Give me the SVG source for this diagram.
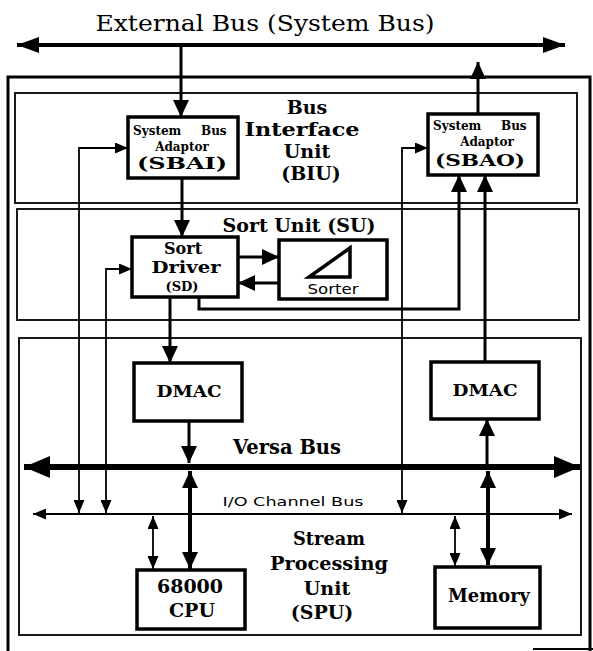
<svg xmlns="http://www.w3.org/2000/svg" width="593" height="651" viewBox="0 0 593 651">
<style>
.frame{fill:none;stroke:#000;stroke-width:1.8}
.outer{fill:none;stroke:#000;stroke-width:3}
.box{fill:#fff;stroke:#000;stroke-width:3.5}
.c{fill:none;stroke:#000}
.s2{stroke-width:1.8}
.s3{stroke-width:3}
.s4{stroke-width:4}
.s6{stroke-width:6}
.t{font-family:"DejaVu Serif","Liberation Serif",serif;font-weight:bold;fill:#000;text-anchor:middle}
.n{font-family:"DejaVu Serif","Liberation Serif",serif;fill:#000;text-anchor:middle}
.sans{font-family:"DejaVu Sans","Liberation Sans",sans-serif;fill:#000;text-anchor:middle}
</style>
<defs>
<marker id="aExt" markerUnits="userSpaceOnUse" markerWidth="22" markerHeight="16" refX="22" refY="8" orient="auto-start-reverse"><path d="M0,0 L22,8 L0,16 z"/></marker>
<marker id="aVer" markerUnits="userSpaceOnUse" markerWidth="26" markerHeight="22" refX="26" refY="11" orient="auto-start-reverse"><path d="M0,0 L26,11 L0,22 z"/></marker>
<marker id="aMed" markerUnits="userSpaceOnUse" markerWidth="17" markerHeight="16" refX="17" refY="8" orient="auto-start-reverse"><path d="M0,0 L17,8 L0,16 z"/></marker>
<marker id="aSm" markerUnits="userSpaceOnUse" markerWidth="13" markerHeight="11" refX="13" refY="5.5" orient="auto-start-reverse"><path d="M0,0 L13,5.5 L0,11 z"/></marker>
</defs>

<rect width="593" height="651" fill="#fff"/>

<text class="n" x="265" y="31" font-size="22" textLength="339" lengthAdjust="spacingAndGlyphs">External Bus (System Bus)</text>

<g id="frames">
  <path class="outer" d="M8,651 V77 H590 V651"/>
  <path class="c s2" d="M533,649 H593"/>
  <g id="biu">
    <rect class="frame" x="15" y="93" width="562" height="110"/>
    <text class="t" x="307" y="114" font-size="19">Bus</text>
    <text class="t" x="302" y="136" font-size="19" textLength="115" lengthAdjust="spacingAndGlyphs">Interface</text>
    <text class="t" x="307" y="158" font-size="19">Unit</text>
    <text class="t" x="311" y="180" font-size="19">(BIU)</text>
  </g>
  <g id="su">
    <rect class="frame" x="17" y="209" width="562" height="111"/>
    <text class="t" x="299" y="232" font-size="19" textLength="153" lengthAdjust="spacingAndGlyphs">Sort Unit (SU)</text>
  </g>
  <g id="spu">
    <rect class="frame" x="19" y="338" width="562" height="297"/>
    <text class="t" x="329" y="545" font-size="19" textLength="72" lengthAdjust="spacingAndGlyphs">Stream</text>
    <text class="t" x="329" y="570" font-size="19" textLength="118" lengthAdjust="spacingAndGlyphs">Processing</text>
    <text class="t" x="327" y="595" font-size="19">Unit</text>
    <text class="t" x="322" y="619" font-size="19">(SPU)</text>
  </g>
</g>

<g id="connectors">
  <line class="c s4" x1="17" y1="45" x2="565" y2="45" marker-start="url(#aExt)" marker-end="url(#aExt)"/>
  <line class="c s3" x1="181" y1="45" x2="181" y2="117" marker-end="url(#aMed)"/>
  <line class="c s3" x1="478" y1="114" x2="478" y2="62" marker-end="url(#aMed)"/>
  <line class="c s3" x1="182" y1="178" x2="182" y2="237" marker-end="url(#aMed)"/>
  <line class="c s3" x1="238" y1="257" x2="279" y2="257" marker-end="url(#aMed)"/>
  <line class="c s3" x1="279" y1="283" x2="238" y2="283" marker-end="url(#aMed)"/>
  <path class="c s3" d="M199,297 V309 H459 V175" marker-end="url(#aMed)"/>
  <line class="c s3" x1="170" y1="297" x2="170" y2="363" marker-end="url(#aMed)"/>
  <line class="c s3" x1="485" y1="362" x2="485" y2="175" marker-end="url(#aMed)"/>
  <line class="c s3" x1="189" y1="421" x2="189" y2="463" marker-end="url(#aMed)"/>
  <line class="c s3" x1="487" y1="464" x2="487" y2="419" marker-end="url(#aMed)"/>
  <line class="c s6" x1="24" y1="467" x2="580" y2="467" marker-start="url(#aVer)" marker-end="url(#aVer)"/>
  <line class="c s4" x1="190" y1="471" x2="190" y2="569" marker-start="url(#aMed)" marker-end="url(#aMed)"/>
  <line class="c s4" x1="488" y1="471" x2="488" y2="565" marker-start="url(#aMed)" marker-end="url(#aMed)"/>
  <line class="c s2" x1="33" y1="514" x2="572" y2="514" marker-start="url(#aSm)" marker-end="url(#aSm)"/>
  <line class="c s2" x1="153" y1="516" x2="153" y2="569" marker-start="url(#aSm)" marker-end="url(#aSm)"/>
  <line class="c s2" x1="455" y1="516" x2="455" y2="566" marker-start="url(#aSm)" marker-end="url(#aSm)"/>
  <path class="c s2" d="M79,513 V148 H128" marker-start="url(#aSm)" marker-end="url(#aSm)"/>
  <path class="c s2" d="M106,513 V269 H132" marker-start="url(#aSm)" marker-end="url(#aSm)"/>
  <path class="c s2" d="M402,513 V148 H428" marker-start="url(#aSm)" marker-end="url(#aSm)"/>
  <text class="t" x="287" y="454" font-size="20" textLength="108" lengthAdjust="spacingAndGlyphs">Versa Bus</text>
  <text class="sans" x="293" y="506" font-size="13" textLength="141" lengthAdjust="spacingAndGlyphs">I/O Channel Bus</text>
</g>

<g id="sbai">
  <rect class="box" x="128" y="117" width="110" height="61"/>
  <text class="t" font-size="12" y="135" style="text-anchor:start"><tspan x="133">System </tspan><tspan x="201">Bus</tspan></text>
  <text class="t" x="182" y="151" font-size="12">Adaptor</text>
  <text class="t" x="182" y="169" font-size="17" textLength="90" lengthAdjust="spacingAndGlyphs">(SBAI)</text>
</g>
<g id="sbao">
  <rect class="box" x="428" y="114" width="110" height="61"/>
  <text class="t" font-size="12" y="130" style="text-anchor:start"><tspan x="433">System </tspan><tspan x="501">Bus</tspan></text>
  <text class="t" x="487" y="146" font-size="12">Adaptor</text>
  <text class="t" x="480" y="166" font-size="17" textLength="90" lengthAdjust="spacingAndGlyphs">(SBAO)</text>
</g>
<g id="sd">
  <rect class="box" x="132" y="237" width="106" height="60"/>
  <text class="t" x="183" y="254" font-size="16">Sort</text>
  <text class="t" x="186" y="273" font-size="16" textLength="69" lengthAdjust="spacingAndGlyphs">Driver</text>
  <text class="t" x="182" y="291" font-size="13">(SD)</text>
</g>
<g id="sorter">
  <rect class="box" x="279" y="240" width="108" height="59"/>
  <polygon points="309,277 350,277 350,248" fill="none" stroke="#000" stroke-width="3.5" stroke-linejoin="miter"/>
  <text class="sans" x="333" y="294" font-size="14" textLength="51" lengthAdjust="spacingAndGlyphs">Sorter</text>
</g>
<g id="dmac-l">
  <rect class="box" x="134" y="363" width="108" height="58"/>
  <text class="t" x="189" y="397" font-size="17" textLength="65" lengthAdjust="spacingAndGlyphs">DMAC</text>
</g>
<g id="dmac-r">
  <rect class="box" x="431" y="362" width="108" height="57"/>
  <text class="t" x="485" y="396" font-size="17" textLength="65" lengthAdjust="spacingAndGlyphs">DMAC</text>
</g>
<g id="cpu">
  <rect class="box" x="137" y="570" width="108" height="59"/>
  <text class="t" x="190" y="593" font-size="19" textLength="66" lengthAdjust="spacingAndGlyphs">68000</text>
  <text class="t" x="192" y="617" font-size="19">CPU</text>
</g>
<g id="memory">
  <rect class="box" x="435" y="567" width="105" height="61"/>
  <text class="t" x="489" y="602" font-size="18" textLength="82" lengthAdjust="spacingAndGlyphs">Memory</text>
</g>
</svg>
